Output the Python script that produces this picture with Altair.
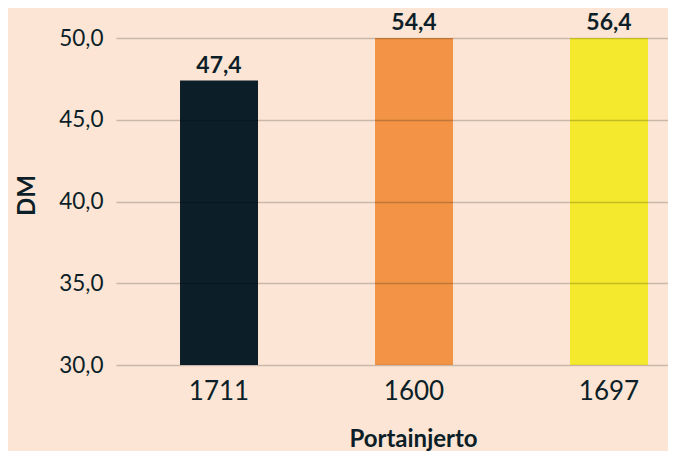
import altair as alt
import pandas as pd

categories = ["1711", "1600", "1697"]
values = [47.4, 54.4, 56.4]
bar_colors = ["#0c1f28", "#f29345", "#f4e92d"]
y_ticks = [30, 35, 40, 45, 50]

df = pd.DataFrame({"Portainjerto": categories, "DM": values, "color": bar_colors})
df["label"] = [f"{v:.1f}".replace(".", ",") for v in values]

TEXT = "#0c1f28"
FONT = "Lato"

x_enc = alt.X(
    "Portainjerto:N",
    sort=categories,
    scale=alt.Scale(paddingInner=0.6, paddingOuter=0.2154, align=0.762),
    axis=alt.Axis(
        title="Portainjerto",
        labelAngle=0,
        labelFont=FONT,
        labelFontSize=26,
        labelColor=TEXT,
        labelPadding=13,
        ticks=False,
        domain=False,
        titleFont=FONT,
        titleFontSize=24,
        titleFontWeight="bold",
        titleColor=TEXT,
        titlePadding=23,
        titleX=297,
    ),
)

y_scale = alt.Scale(domain=[30, 50], nice=False, zero=False)

bars = alt.Chart(df).mark_bar(clip=True).encode(
    x=x_enc,
    y=alt.Y(
        "DM:Q",
        scale=y_scale,
        axis=alt.Axis(
            title="DM",
            values=y_ticks,
            labelExpr="replace(format(datum.value, '.1f'), '.', ',')",
            labelFont=FONT,
            labelFontSize=22.5,
            labelColor=TEXT,
            labelPadding=13,
            ticks=False,
            domain=False,
            gridColor="#000000",
            gridOpacity=0.2,
            gridWidth=1.5,
            zindex=1,
            titleFont=FONT,
            titleFontSize=24,
            titleFontWeight="bold",
            titleColor=TEXT,
            titlePadding=19,
            titleY=157,
        ),
    ),
    color=alt.Color("color:N", scale=None),
)

labels = alt.Chart(df).transform_calculate(
    ypos="min(datum.DM, 50)"
).mark_text(
    dy=-8, baseline="alphabetic", font=FONT, fontSize=23, fontWeight="bold", color=TEXT
).encode(
    x=alt.X("Portainjerto:N", sort=categories),
    y=alt.Y("ypos:Q", scale=y_scale),
    text="label:N",
)

chart = (
    alt.layer(bars, labels)
    .properties(
        width=552,
        height=327,
        background="#fce5d4",
        padding={"left": 108, "top": 30, "right": 0, "bottom": 86},
        autosize=alt.AutoSizeParams(type="none"),
    )
    .configure_view(stroke=None)
)

chart.save("out.html", embed_options={"renderer": "svg", "actions": False})
